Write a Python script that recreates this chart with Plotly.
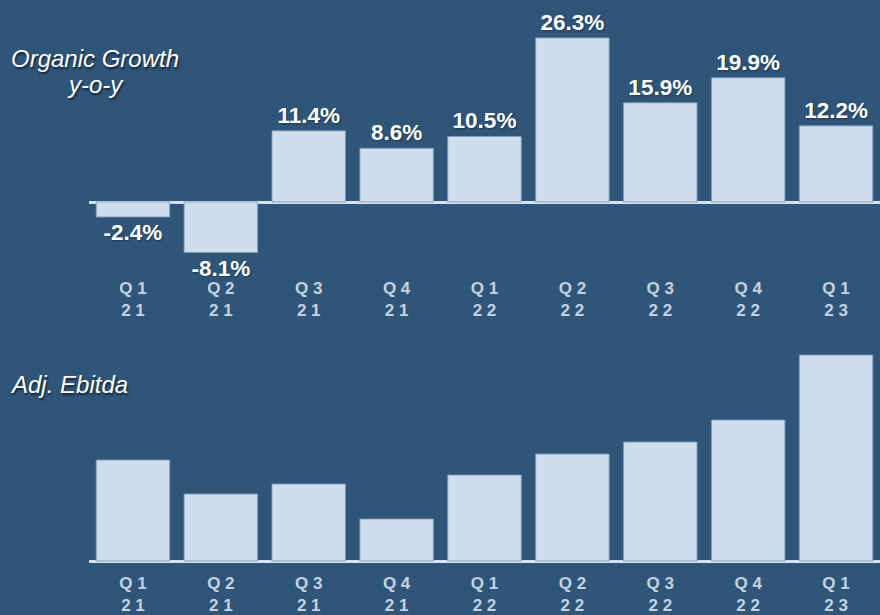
import plotly.graph_objects as go

# ---------------- data ----------------
quarters = ["Q 1<br>2 1", "Q 2<br>2 1", "Q 3<br>2 1", "Q 4<br>2 1",
            "Q 1<br>2 2", "Q 2<br>2 2", "Q 3<br>2 2", "Q 4<br>2 2", "Q 1<br>2 3"]
organic_growth = [-2.4, -8.1, 11.4, 8.6, 10.5, 26.3, 15.9, 19.9, 12.2]
# Adj. Ebitda: relative bar heights (no values shown)
adj_ebitda = [101, 67, 77, 42, 86, 107, 119, 141, 206]

# ---------------- styles ----------------
W, H = 880, 615
BG = "#2f5579"
BAR = "#cfdeec"
BAR_EDGE = "rgba(125,155,185,0.9)"
AXIS = "#d6e3ef"
TICK = "#c4d3e3"
FONT = "Liberation Sans, Arial, sans-serif"

def py(p):  # pixel-from-top -> paper fraction
    return 1 - p / H

x_dom = [89 / W, 1.0]

# top chart: baseline at 202px, 6.24 px per %
top_px, bot_px, base_px, k1 = 30, 268, 202, 6.24
y1_range = [-(bot_px - base_px) / k1, (base_px - top_px) / k1]
# bottom chart: baseline at 561px, 1 px per unit
top2_px, bot2_px, base2_px, k2 = 340, 563, 561, 1.0
y2_range = [-(bot2_px - base2_px) / k2, (base2_px - top2_px) / k2]

idx = list(range(len(quarters)))

fig = go.Figure()
fig.add_trace(go.Bar(
    x=idx, y=organic_growth, xaxis="x", yaxis="y",
    marker=dict(color=BAR, line=dict(color=BAR_EDGE, width=1)),
    texttemplate="%{y:.1f}%", textposition="outside", cliponaxis=False,
    constraintext="none",
    textfont=dict(family=FONT, size=22.5, color="white", weight="bold",
                  shadow="1px 1px 2px rgba(0,0,0,0.35)"),
    hoverinfo="skip", showlegend=False,
))
fig.add_trace(go.Bar(
    x=idx, y=adj_ebitda, xaxis="x2", yaxis="y2",
    marker=dict(color=BAR, line=dict(color=BAR_EDGE, width=1)),
    hoverinfo="skip", showlegend=False,
))

xcommon = dict(
    range=[-0.5, len(quarters) - 0.5], domain=x_dom,
    tickmode="array", tickvals=idx, ticktext=quarters,
    showgrid=False, zeroline=False, showline=False, ticks="",
    ticklabelstandoff=8,
    tickfont=dict(family=FONT, size=17, color=TICK, weight="bold"),
    fixedrange=True,
)
ycommon = dict(showgrid=False, showticklabels=False, zeroline=True,
               zerolinecolor=AXIS, zerolinewidth=2.5, fixedrange=True)

fig.update_layout(
    width=W, height=H,
    margin=dict(l=0, r=0, t=0, b=0),
    paper_bgcolor=BG, plot_bgcolor=BG,
    bargap=1 - 73.5 / 87.9,
    xaxis=dict(**xcommon, anchor="y"),
    yaxis=dict(**ycommon, range=y1_range, domain=[py(bot_px), py(top_px)], anchor="x"),
    xaxis2=dict(**xcommon, anchor="y2"),
    yaxis2=dict(**ycommon, range=y2_range, domain=[py(bot2_px), py(top2_px)], anchor="x2"),
)

title_font = dict(family=FONT, size=24, color="white", style="italic",
                  shadow="1px 2px 2px rgba(0,0,0,0.6)")
fig.add_annotation(text="Organic Growth", x=95 / W, y=py(58), xref="paper", yref="paper",
                   xanchor="center", yanchor="middle", showarrow=False, font=title_font)
fig.add_annotation(text="y-o-y", x=95 / W, y=py(85), xref="paper", yref="paper",
                   xanchor="center", yanchor="middle", showarrow=False, font=title_font)
fig.add_annotation(text="Adj. Ebitda", x=8 / W, y=py(384), xref="paper", yref="paper",
                   xanchor="left", yanchor="middle", showarrow=False, font=title_font)

fig.write_html("out.html")
